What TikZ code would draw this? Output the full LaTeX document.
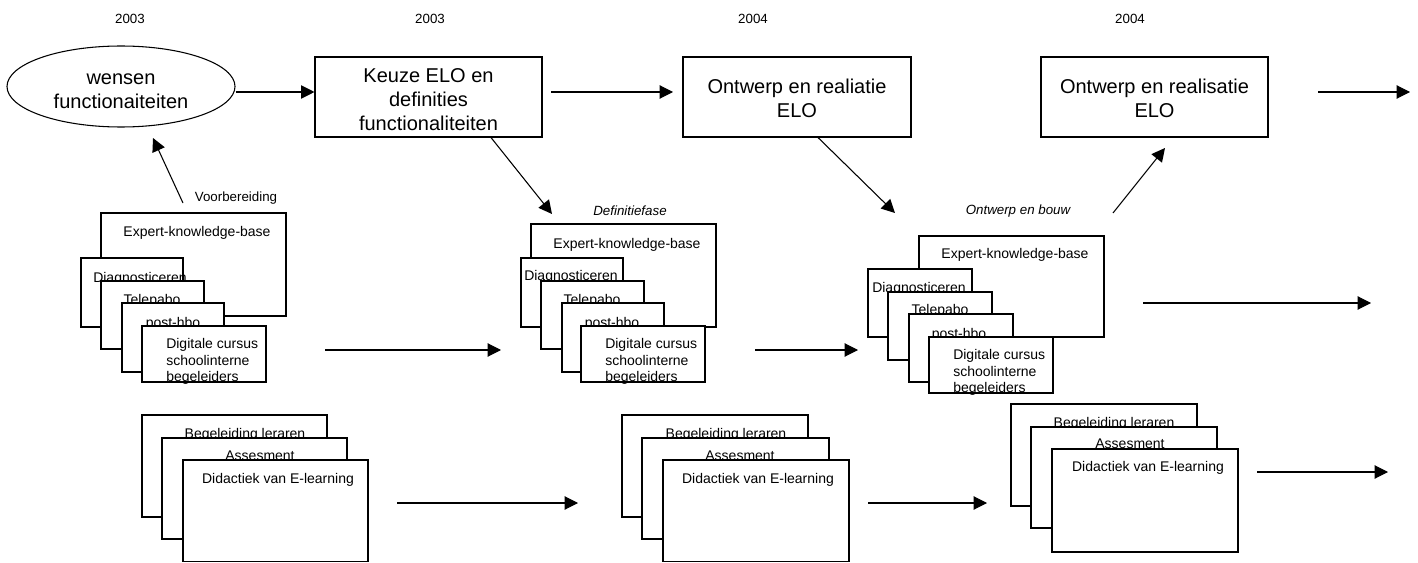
\documentclass[tikz,border=0pt]{standalone}
\usepackage{fontspec}
\setmainfont{Liberation Sans}
\usetikzlibrary{arrows.meta,fit,shapes.geometric}
\begin{document}
\begin{tikzpicture}[x=0.75pt,y=-0.75pt,
  card/.style={draw=black, fill=white, line width=0.8pt, inner sep=0pt},
  big/.style={font=\fontsize{15}{18}\selectfont, align=center, inner sep=0pt},
  small/.style={font=\fontsize{10.5}{12.5}\selectfont, inner sep=0pt, anchor=base},
  lab/.style={font=\fontsize{10}{12}\selectfont, inner sep=0pt},
  arr/.style={line width=0.8pt, -{Triangle[length=10pt,width=10pt]}}]
\useasboundingbox (0,0) rectangle (1418,563);
% years
\node[lab] (y1) at (130,19) {2003};
\node[lab] (y2) at (430,19) {2003};
\node[lab] (y3) at (753,19) {2004};
\node[lab] (y4) at (1130,19) {2004};
% top row
\node[ellipse, draw=black, line width=0.8pt, inner sep=0pt, minimum width=171pt, minimum height=60.75pt] (ell) at (121,86.5) {};
\node[big] (ellt) at ([yshift=-3.5pt]ell.center) {wensen\\functionaiteiten};
\node[card, fit={(315,57)(542,137)}] (box1) {};
\node[big] (box1t) at ([yshift=-1.8pt]box1.center) {Keuze ELO en\\definities\\functionaliteiten};
\node[card, fit={(683,57)(911,137)}] (box2) {};
\node[big] (box2t) at ([yshift=-1.3pt]box2.center) {Ontwerp en realiatie\\ELO};
\node[card, fit={(1041,57)(1268,137)}] (box3) {};
\node[big] (box3t) at ([yshift=-1.3pt]box3.center) {Ontwerp en realisatie\\ELO};
% labels
\node[lab] (lv) at (236,198) {Voorbereiding};
\node[lab, font=\fontsize{10}{12}\selectfont\itshape] (ld) at (630,211) {Definitiefase};
\node[lab, font=\fontsize{10}{12}\selectfont\itshape] (lo) at (1018,211) {Ontwerp en bouw};
% stack 1
\node[card, fit={(101,213)(286,316)}] (s1e) {};
\node[small] (s1et) at (197,237) {Expert-knowledge-base};
\node[card, fit={(81,258)(183,327)}] (s1d) {};
\node[small, anchor=base west] (s1dt) at (93,282) {Diagnosticeren};
\node[card, fit={(101,281)(204,349)}] (s1t) {};
\node[small] (s1tt) at (152,304) {Telepabo};
\node[card, fit={(122,303)(224,372)}] (s1p) {};
\node[small] (s1pt) at (173,327) {post-hbo};
\node[card, fit={(142,326)(266,382)}] (s1g) {};
\node[small, anchor=north west, align=left] (s1gt) at (166,338) {Digitale cursus\\schoolinterne\\begeleiders};
% stack 2
\node[card, fit={(531,224)(716,327)}] (s2e) {};
\node[small] (s2et) at (627,248) {Expert-knowledge-base};
\node[card, fit={(521,258)(623,327)}] (s2d) {};
\node[small, anchor=base west] (s2dt) at (524,281) {Diagnosticeren};
\node[card, fit={(541,281)(644,349)}] (s2t) {};
\node[small] (s2tt) at (592,304) {Telepabo};
\node[card, fit={(562,303)(664,372)}] (s2p) {};
\node[small] (s2pt) at (612,327) {post-hbo};
\node[card, fit={(581,326)(705,382)}] (s2g) {};
\node[small, anchor=north west, align=left] (s2gt) at (605,338) {Digitale cursus\\schoolinterne\\begeleiders};
% stack 3
\node[card, fit={(919,236)(1104,337)}] (s3e) {};
\node[small] (s3et) at (1015,258) {Expert-knowledge-base};
\node[card, fit={(868,269)(972,337)}] (s3d) {};
\node[small, anchor=base west] (s3dt) at (872,292) {Diagnosticeren};
\node[card, fit={(888,292)(992,360)}] (s3t) {};
\node[small] (s3tt) at (940,314) {Telepabo};
\node[card, fit={(909,314)(1013,382)}] (s3p) {};
\node[small] (s3pt) at (959,338) {post-hbo};
\node[card, fit={(929,337)(1053,393)}] (s3g) {};
\node[small, anchor=north west, align=left] (s3gt) at (953,349) {Digitale cursus\\schoolinterne\\begeleiders};
% bottom stack 1
\node[card, fit={(142,415)(327,517)}] (b1b) {};
\node[small] (b1bt) at (245,438) {Begeleiding leraren};
\node[card, fit={(162,438)(347,539)}] (b1a) {};
\node[small] (b1at) at (260,460) {Assesment};
\node[card, fit={(183,460)(368,561.5)}] (b1d) {};
\node[small] (b1dt) at (278,483) {Didactiek van E-learning};
% bottom stack 2
\node[card, fit={(622,415)(808,517)}] (b2b) {};
\node[small] (b2bt) at (726,438) {Begeleiding leraren};
\node[card, fit={(642,438)(829,539)}] (b2a) {};
\node[small] (b2at) at (740,460) {Assesment};
\node[card, fit={(663,460)(849,561.5)}] (b2d) {};
\node[small] (b2dt) at (758,483) {Didactiek van E-learning};
% bottom stack 3
\node[card, fit={(1011,404)(1197,506)}] (b3b) {};
\node[small] (b3bt) at (1114,427) {Begeleiding leraren};
\node[card, fit={(1031,427)(1217,528)}] (b3a) {};
\node[small] (b3at) at (1130,448) {Assesment};
\node[card, fit={(1052,449)(1238,552)}] (b3d) {};
\node[small] (b3dt) at (1148,471) {Didactiek van E-learning};
% coordinates for free arrow ends
\coordinate (h1) at (0,92);
\coordinate (a2s) at (551,92);   \coordinate (a2e) at (673,92);
\coordinate (a3s) at (1318,92);  \coordinate (a3e) at (1410,92);
\coordinate (a4s) at (183,203);  \coordinate (a4e) at (153,138);
\coordinate (a5s) at (491,0);    \coordinate (a5e) at (552,214);
\coordinate (a6s) at (818,0);    \coordinate (a6e) at (895,213);
\coordinate (a7s) at (1113,213); \coordinate (a7e) at (1165,148);
\coordinate (r1s) at (325,350);  \coordinate (r1e) at (501,350);
\coordinate (r2s) at (755,350);  \coordinate (r2e) at (858,350);
\coordinate (r3s) at (1143,303); \coordinate (r3e) at (1371,303);
\coordinate (q1s) at (397,503);  \coordinate (q1e) at (578,503);
\coordinate (q2s) at (868,503);  \coordinate (q2e) at (987,503);
\coordinate (q3s) at (1257,472); \coordinate (q3e) at (1388,472);
% arrows
\draw[arr] (ell.east |- h1) -- (box1.west |- h1);
\draw[arr] (a2s) -- (a2e);
\draw[arr] (a3s) -- (a3e);
\draw[arr] (a4s) -- (a4e);
\draw[arr] (box1.south -| a5s) -- (a5e);
\draw[arr] (box2.south -| a6s) -- (a6e);
\draw[arr] (a7s) -- (a7e);
\draw[arr] (r1s) -- (r1e);
\draw[arr] (r2s) -- (r2e);
\draw[arr] (r3s) -- (r3e);
\draw[arr] (q1s) -- (q1e);
\draw[arr] (q2s) -- (q2e);
\draw[arr] (q3s) -- (q3e);
\end{tikzpicture}
\end{document}
